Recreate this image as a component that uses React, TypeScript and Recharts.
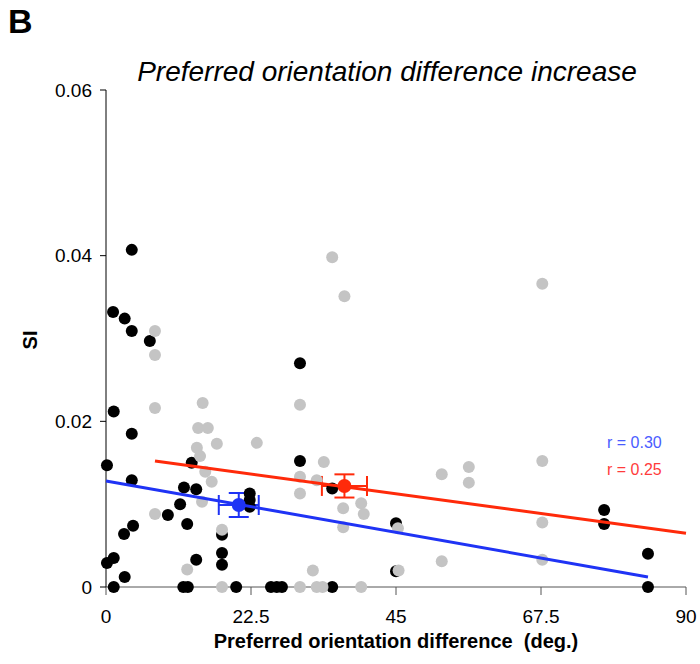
import React from 'react'
import { ScatterChart, Scatter, XAxis, YAxis, ErrorBar } from 'recharts'

// SI vs preferred orientation difference (deg.)
const blackDeg = [4.0, 1.1, 2.9, 4.0, 6.8, 1.2, 4.0, 0.15, 4.0, 13.3, 12.1, 14.0, 11.5, 9.6, 4.2, 2.8, 12.6, 0.15, 1.2, 14.0, 2.9, 1.2, 12.0, 12.7, 22.3, 22.3, 22.3, 18.0, 18.0, 18.0, 20.2, 25.6, 26.5, 27.3, 30.1, 30.1, 35.1, 45.0, 45.0, 35.1, 77.3, 77.3, 84.1, 84.1]
const blackSI = [0.0407, 0.0332, 0.0324, 0.0309, 0.0297, 0.0212, 0.0185, 0.0147, 0.0129, 0.015, 0.012, 0.0118, 0.01, 0.0087, 0.0074, 0.0064, 0.0076, 0.0029, 0.0035, 0.0033, 0.0012, 0, 0, 0, 0.0113, 0.0105, 0.0097, 0.0063, 0.0041, 0.0027, 0, 0, 0, 0, 0.027, 0.0152, 0.0119, 0.0077, 0.0019, 0, 0.0093, 0.0076, 0.004, 0]

const grayDeg = [7.6, 7.6, 7.6, 15.0, 14.3, 15.8, 14.1, 14.6, 15.4, 16.4, 14.9, 7.6, 12.6, 17.2, 23.4, 30.1, 30.1, 30.1, 18.0, 18.0, 30.1, 32.1, 35.1, 37.0, 33.8, 32.7, 36.8, 39.6, 40.0, 36.8, 45.3, 45.4, 32.7, 33.6, 39.6, 52.1, 56.3, 56.3, 67.7, 67.7, 52.1, 67.7, 67.7]
const graySI = [0.0309, 0.028, 0.0216, 0.0222, 0.0192, 0.0192, 0.0168, 0.0158, 0.0139, 0.0127, 0.0103, 0.0088, 0.0021, 0.0173, 0.0174, 0.022, 0.0133, 0.0113, 0.0069, 0, 0, 0.002, 0.0398, 0.0351, 0.0151, 0.0129, 0.0095, 0.0101, 0.0088, 0.0072, 0.0071, 0.002, 0, 0, 0, 0.0136, 0.0145, 0.0126, 0.0152, 0.0078, 0.0031, 0.0033, 0.0366]

// regression line end points
const blueFit = [{ x: 0, y: 0.0128 }, { x: 84.1, y: 0.0012 }]
const redFit = [{ x: 7.6, y: 0.0152 }, { x: 90, y: 0.0065 }]

// group means with SEM
const blueMean = [{ x: 20.6, y: 0.0099, ex: 3.1, ey: 0.00145 }]
const redMean = [{ x: 37.0, y: 0.0122, ex: 3.5, ey: 0.0014 }]

const xTicks = [0, 22.5, 45, 67.5, 90]
const yTicks = [0, 0.02, 0.04, 0.06]

const BLUE = '#1f33f5'
const RED = '#ff2a0a'

const blackData = blackDeg.map((x, i) => ({ x, y: blackSI[i] }))
const grayData = grayDeg.map((x, i) => ({ x, y: graySI[i] }))

const dot = (fill: string, r: number) => (p: any) =>
  <circle cx={p.cx} cy={p.cy} r={r} fill={fill} />

const font = '"Liberation Sans", Arial, sans-serif'

export default function App() {
  return (
    <div style={{ position: 'absolute', left: 0, top: 0, width: 700, height: 664, background: '#fff', fontFamily: font }}>
      <ScatterChart width={700} height={664} margin={{ top: 90, right: 14, bottom: 47, left: 46 }}>
        <XAxis
          type="number"
          dataKey="x"
          domain={[0, 90]}
          ticks={xTicks}
          tickSize={8}
          tickMargin={15}
          stroke="#555"
          tick={{ fill: '#000', fontSize: 19, fontFamily: font }}
          height={30}
        />
        <YAxis
          type="number"
          dataKey="y"
          domain={[0, 0.06]}
          ticks={yTicks}
          tickFormatter={(v: number) => (v === 0 ? '0' : v.toFixed(2))}
          tickSize={6}
          tickMargin={8}
          stroke="#000"
          tick={{ fill: '#000', fontSize: 19, fontFamily: font }}
          width={60}
        />
        <Scatter data={blackData} fill="#000" shape={dot('#000', 6)} isAnimationActive={false} />
        <Scatter data={grayData} fill="#c4c4c4" shape={dot('#c4c4c4', 6)} isAnimationActive={false} />
        <Scatter data={blueFit} line={{ stroke: BLUE, strokeWidth: 3 }} shape={() => <g />} isAnimationActive={false} />
        <Scatter data={redFit} line={{ stroke: RED, strokeWidth: 3 }} shape={() => <g />} isAnimationActive={false} />
        <Scatter data={blueMean} fill={BLUE} shape={dot(BLUE, 7)} isAnimationActive={false}>
          <ErrorBar dataKey="ex" direction="x" width={10} stroke={BLUE} strokeWidth={2} isAnimationActive={false} />
          <ErrorBar dataKey="ey" direction="y" width={10} stroke={BLUE} strokeWidth={2} isAnimationActive={false} />
        </Scatter>
        <Scatter data={redMean} fill={RED} shape={dot(RED, 7)} isAnimationActive={false}>
          <ErrorBar dataKey="ex" direction="x" width={10} stroke={RED} strokeWidth={2} isAnimationActive={false} />
          <ErrorBar dataKey="ey" direction="y" width={10} stroke={RED} strokeWidth={2} isAnimationActive={false} />
        </Scatter>
      </ScatterChart>
      <svg width={700} height={664} style={{ position: 'absolute', left: 0, top: 0, pointerEvents: 'none' }} fontFamily={font}>
        <text x={8} y={33} fontSize={34} fontWeight="bold">B</text>
        <text x={387} y={81} fontSize={28} fontStyle="italic" textAnchor="middle">Preferred orientation difference increase</text>
        <text x={0} y={0} fontSize={20} fontWeight="bold" textAnchor="middle" transform="translate(37,340) rotate(-90)">SI</text>
        <text x={396} y={648} fontSize={20} fontWeight="bold" textAnchor="middle" style={{ whiteSpace: 'pre' }}>Preferred orientation difference  (deg.)</text>
        <text x={607} y={448} fontSize={16} fill="#4a5cff">r = 0.30</text>
        <text x={607} y={475} fontSize={16} fill="#ff3b3b">r = 0.25</text>
      </svg>
    </div>
  )
}
